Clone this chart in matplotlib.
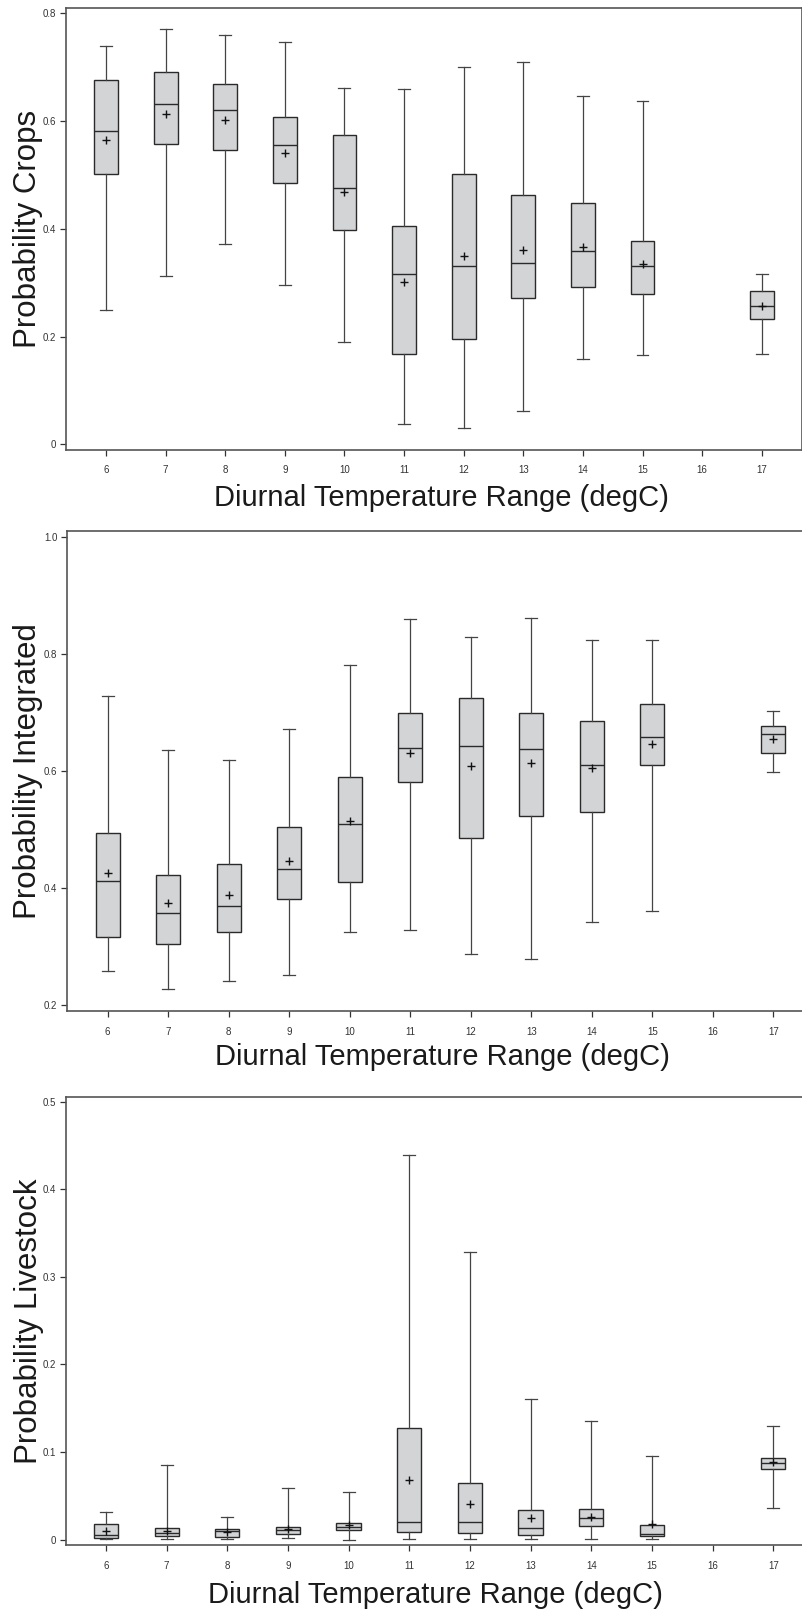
import matplotlib
matplotlib.use("Agg")
import matplotlib.pyplot as plt

plt.rcParams['font.family'] = ['Liberation Sans', 'DejaVu Sans']

dtr = [6, 7, 8, 9, 10, 11, 12, 13, 14, 15, 17]
all_ticks = [6, 7, 8, 9, 10, 11, 12, 13, 14, 15, 16, 17]
xlabel = "Diurnal Temperature Range (degC)"

# Crops
crops_whislo = [0.250, 0.312, 0.371, 0.296, 0.190, 0.037, 0.031, 0.061, 0.158, 0.165, 0.168]
crops_q1     = [0.502, 0.557, 0.547, 0.485, 0.398, 0.168, 0.195, 0.271, 0.292, 0.279, 0.233]
crops_med    = [0.582, 0.631, 0.621, 0.556, 0.476, 0.316, 0.331, 0.337, 0.358, 0.330, 0.257]
crops_mean   = [0.564, 0.613, 0.602, 0.541, 0.469, 0.301, 0.350, 0.361, 0.367, 0.335, 0.256]
crops_q3     = [0.677, 0.691, 0.668, 0.607, 0.575, 0.406, 0.502, 0.462, 0.447, 0.377, 0.285]
crops_whishi = [0.740, 0.770, 0.759, 0.746, 0.662, 0.660, 0.700, 0.710, 0.647, 0.637, 0.316]

# Integrated
integ_whislo = [0.258, 0.228, 0.241, 0.252, 0.326, 0.328, 0.287, 0.279, 0.343, 0.361, 0.599]
integ_q1     = [0.317, 0.304, 0.326, 0.382, 0.411, 0.582, 0.486, 0.524, 0.530, 0.610, 0.632]
integ_med    = [0.413, 0.358, 0.370, 0.433, 0.510, 0.640, 0.643, 0.638, 0.610, 0.658, 0.663]
integ_mean   = [0.426, 0.374, 0.388, 0.446, 0.515, 0.631, 0.609, 0.615, 0.605, 0.646, 0.656]
integ_q3     = [0.494, 0.422, 0.441, 0.504, 0.590, 0.699, 0.725, 0.699, 0.686, 0.715, 0.678]
integ_whishi = [0.729, 0.636, 0.620, 0.673, 0.781, 0.861, 0.830, 0.862, 0.825, 0.825, 0.703]

# Livestock
live_whislo = [0.001, 0.001, 0.001, 0.002, 0.000, 0.0004, 0.0004, 0.0004, 0.0004, 0.0004, 0.036]
live_q1     = [0.002, 0.004, 0.003, 0.007, 0.011, 0.0088, 0.0072, 0.0053, 0.0152, 0.0038, 0.081]
live_med    = [0.005, 0.008, 0.0095, 0.011, 0.014, 0.0198, 0.0205, 0.0137, 0.0251, 0.0061, 0.088]
live_mean   = [0.010, 0.010, 0.0084, 0.0126, 0.0164, 0.0677, 0.0411, 0.0247, 0.0263, 0.0179, 0.089]
live_q3     = [0.018, 0.013, 0.0126, 0.0141, 0.0186, 0.1275, 0.0643, 0.0339, 0.0354, 0.0167, 0.0936]
live_whishi = [0.0316, 0.0849, 0.0255, 0.0594, 0.054, 0.4395, 0.3284, 0.1606, 0.135, 0.0959, 0.1298]

panels = [
    dict(name="Probability Crops", lo=crops_whislo, q1=crops_q1, med=crops_med, mean=crops_mean,
         q3=crops_q3, hi=crops_whishi, yticks=[0, 0.2, 0.4, 0.6, 0.8],
         yticklabels=["0", "0.2", "0.4", "0.6", "0.8"]),
    dict(name="Probability Integrated", lo=integ_whislo, q1=integ_q1, med=integ_med, mean=integ_mean,
         q3=integ_q3, hi=integ_whishi, yticks=[0.2, 0.4, 0.6, 0.8, 1.0],
         yticklabels=["0.2", "0.4", "0.6", "0.8", "1.0"]),
    dict(name="Probability Livestock", lo=live_whislo, q1=live_q1, med=live_med, mean=live_mean,
         q3=live_q3, hi=live_whishi, yticks=[0, 0.1, 0.2, 0.3, 0.4, 0.5],
         yticklabels=["0", "0.1", "0.2", "0.3", "0.4", "0.5"]),
]

W, H = 803, 1621
fig = plt.figure(figsize=(W / 100, H / 100), dpi=100)

# layout in pixels: left, right, top, bottom
layout = [
    dict(l=65.7, r=801.7, t=8.0, b=450.0, xlim=(5.324, 17.67), ylim=(-0.0106, 0.8098),
         xl=(0.51, -0.078), yl=(-0.031, 0.5)),
    dict(l=67.0, r=804.5, t=530.7, b=1011.3, xlim=(5.327, 17.515), ylim=(0.1897, 1.0113),
         xl=(0.509, -0.066), yl=(-0.0326, 0.5)),
    dict(l=65.7, r=804.5, t=1096.7, b=1545.3, xlim=(5.336, 17.515), ylim=(-0.0064, 0.5057),
         xl=(0.501, -0.080), yl=(-0.029, 0.5)),
]

spine_col = "#555555"
for p, L in zip(panels, layout):
    ax = fig.add_axes([L['l'] / W, (H - L['b']) / H, (L['r'] - L['l']) / W, (L['b'] - L['t']) / H])
    stats = []
    for i in range(len(dtr)):
        stats.append(dict(med=p['med'][i], q1=p['q1'][i], q3=p['q3'][i],
                          whislo=p['lo'][i], whishi=p['hi'][i], mean=p['mean'][i], fliers=[]))
    ax.bxp(stats, positions=dtr, widths=0.4, capwidths=0.2, showmeans=True, patch_artist=True,
           boxprops=dict(facecolor="#d3d4d6", edgecolor="#2a2a2a", linewidth=1.0),
           medianprops=dict(color="#2a2a2a", linewidth=1.0),
           whiskerprops=dict(color="#444444", linewidth=0.9),
           capprops=dict(color="#444444", linewidth=0.9),
           meanprops=dict(marker='+', markeredgecolor="#111111", markerfacecolor="#111111",
                          markersize=6, markeredgewidth=1.0))
    ax.set_xlim(*L['xlim'])
    ax.set_ylim(*L['ylim'])
    ax.set_xticks(all_ticks)
    ax.set_xticklabels([str(t) for t in all_ticks])
    ax.set_yticks(p['yticks'])
    ax.set_yticklabels(p['yticklabels'])
    ax.tick_params(axis='both', direction='out', length=4, width=0.9, color="#333333",
                   labelsize=7, labelcolor="#333333")
    ax.tick_params(axis='x', pad=7)
    ax.tick_params(axis='y', pad=3)
    for s in ax.spines.values():
        s.set_color(spine_col)
        s.set_linewidth(1.2)
    ax.set_xlabel(xlabel, fontsize=21, color="#1a1a1a")
    ax.xaxis.set_label_coords(*L['xl'])
    ax.set_ylabel(p['name'], fontsize=22.5, color="#1a1a1a")
    ax.yaxis.set_label_coords(*L['yl'])

fig.savefig("out.png", dpi=100)
